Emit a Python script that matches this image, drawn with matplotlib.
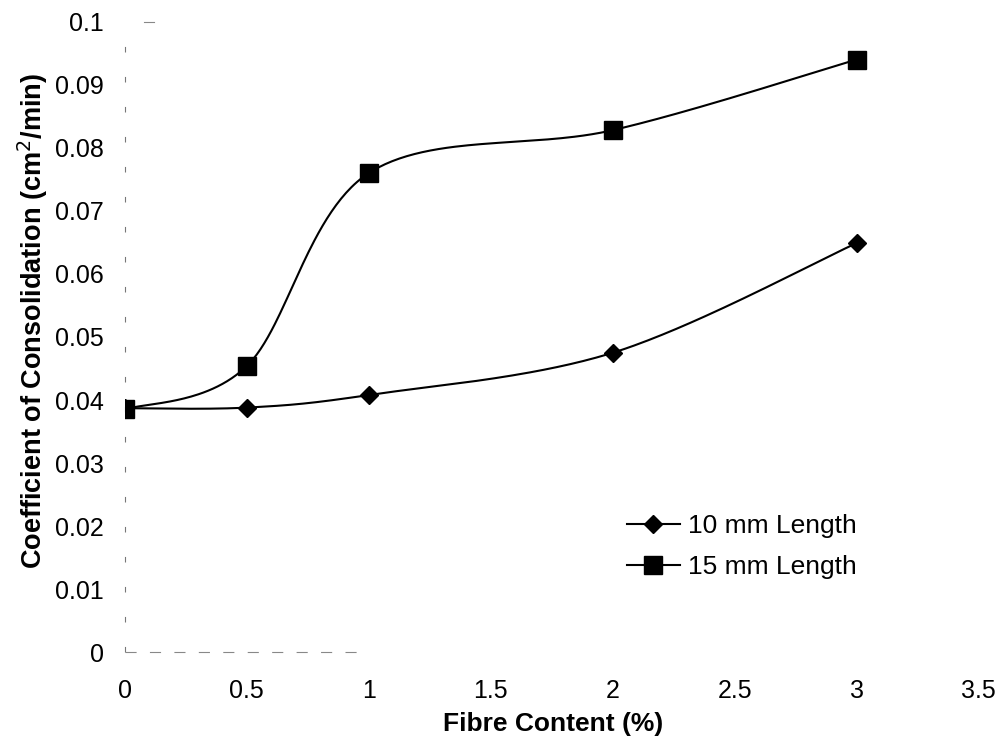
import numpy as np
import matplotlib
matplotlib.use("Agg")
import matplotlib.pyplot as plt
from matplotlib.lines import Line2D

plt.rcParams['font.family'] = ['Liberation Sans', 'DejaVu Sans']

fibre_content = [0, 0.5, 1, 2, 3]
cv_10mm = [0.0387, 0.0388, 0.0408, 0.0475, 0.0649]
cv_15mm = [0.0385, 0.0454, 0.0760, 0.0828, 0.0940]
x_ticks = [0, 0.5, 1, 1.5, 2, 2.5, 3, 3.5]
y_ticks = [0, 0.01, 0.02, 0.03, 0.04, 0.05, 0.06, 0.07, 0.08, 0.09, 0.1]


def smooth_curve(xs, ys, n=60):
    """Piecewise cubic Bezier through the points (spreadsheet-style smoothing)."""
    p = np.column_stack([xs, ys]).astype(float)
    m = len(p)
    out = []
    for i in range(m - 1):
        p0 = p[max(i - 1, 0)]
        p1 = p[i]
        p2 = p[i + 1]
        p3 = p[min(i + 2, m - 1)]
        c1 = p1 + (p2 - p0) / 6.0
        c2 = p2 - (p3 - p1) / 6.0
        t = np.linspace(0, 1, n)[:, None]
        seg = ((1 - t) ** 3) * p1 + 3 * ((1 - t) ** 2) * t * c1 \
            + 3 * (1 - t) * t ** 2 * c2 + t ** 3 * p2
        out.append(seg if i == 0 else seg[1:])
    s = np.vstack(out)
    return s[:, 0], s[:, 1]


fig = plt.figure(figsize=(10.07, 7.48), dpi=100)
ax = fig.add_axes([0.124, 0.128, 0.848, 0.843])

for ys, marker, ms in [(cv_10mm, 'D', 8.8), (cv_15mm, 's', 13)]:
    sx, sy = smooth_curve(fibre_content, ys)
    ax.plot(sx, sy, color='black', lw=1.5, zorder=2)
    ax.plot(fibre_content, ys, linestyle='none', marker=marker, ms=ms,
            color='black', zorder=3)

ax.set_xlim(0, 3.5)
ax.set_ylim(0, 0.1)
ax.set_xticks(x_ticks)
ax.set_xticklabels([f'{v:g}' for v in x_ticks])
ax.set_yticks(y_ticks)
ax.set_yticklabels([f'{v:g}' for v in y_ticks])
ax.tick_params(axis='both', length=0, labelsize=18)
ax.tick_params(axis='y', pad=15)
ax.tick_params(axis='x', pad=19)

for sp in ax.spines.values():
    sp.set_visible(False)

# faint, broken axis lines
ax.plot([0, 0], [0, 0.1], color='#777777', lw=0.8,
        dashes=(5, 22), clip_on=False, zorder=1)
ax.plot([0, 0.95], [0, 0], color='#888888', lw=0.8,
        dashes=(10, 12), clip_on=False, zorder=1)
ax.plot([0.08, 0.12], [0.1, 0.1], color='#888888', lw=0.8,
        clip_on=False, zorder=1)

fig.text(553 / 1007, 1 - 724 / 748, 'Fibre Content (%)', fontsize=19,
         fontweight='bold', ha='center', va='center')
fig.text(33 / 1007, 1 - 321 / 748, 'Coefficient of Consolidation (cm$^2$/min)',
         fontsize=19.5, fontweight='bold', ha='center', va='center',
         rotation=90)

handles = [
    Line2D([], [], color='black', lw=1.5, marker='D', ms=8.8),
    Line2D([], [], color='black', lw=1.5, marker='s', ms=13),
]
ax.legend(handles, ['10 mm Length', '15 mm Length'], loc='lower left',
          bbox_to_anchor=(0.56, 0.078), frameon=False, fontsize=19,
          handlelength=2.0, handletextpad=0.3, labelspacing=0.65)

fig.savefig('out.png', dpi=100)
